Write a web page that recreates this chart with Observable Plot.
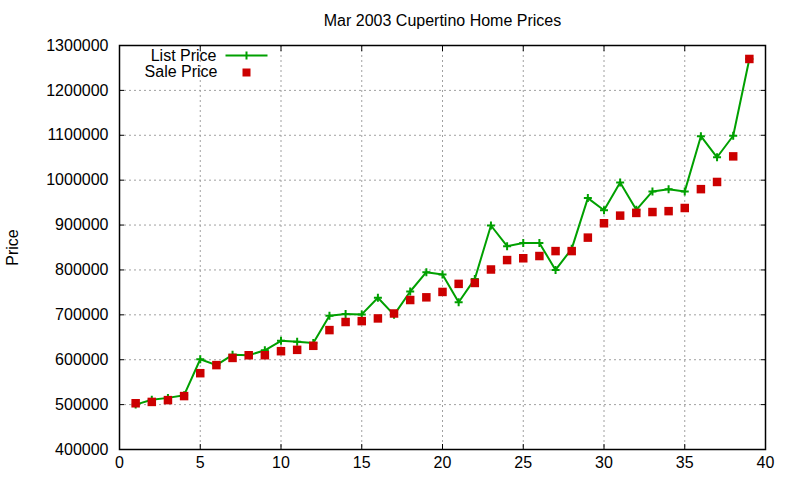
<!DOCTYPE html>
<html>
<head>
<meta charset="utf-8">
<script src="https://cdn.jsdelivr.net/npm/d3@7"></script>
<script src="https://cdn.jsdelivr.net/npm/@observablehq/plot@0.6"></script>
<style>
  html, body { margin: 0; padding: 0; background: #fff; }
</style>
</head>
<body>
<div id="chart"></div>
<script>
const title = "Mar 2003 Cupertino Home Prices";
const yLabel = "Price";
const seriesNames = ["List Price", "Sale Price"];
const houseIndex = [1,2,3,4,5,6,7,8,9,10,11,12,13,14,15,16,17,18,19,20,21,22,23,24,25,26,27,28,29,30,31,32,33,34,35,36,37,38,39];
const listPrice = [500000,511000,515000,521000,601000,588000,611000,610000,621000,642000,640000,637000,698000,702000,701000,738000,700000,752000,795000,790000,728000,780000,899000,853000,860000,860000,800000,847000,960000,933000,995000,934000,975000,980000,975000,1098000,1051000,1099000,1270000];
const salePrice = [503000,506000,510000,519000,570000,588000,604000,610000,610000,619000,622000,631000,666000,684000,686000,692000,703000,733000,739000,751000,769000,771000,801000,822000,826000,831000,842000,842000,872000,904000,921000,927000,929000,931000,938000,980000,996000,1053000,1270000];
const xTicks = [0,5,10,15,20,25,30,35,40];
const yTicks = [400000,500000,600000,700000,800000,900000,1000000,1100000,1200000,1300000];

const rows = houseIndex.map((x, i) => ({x, list: listPrice[i], sale: salePrice[i]}));

const GREEN = "#00a000";
const RED = "#cc0000";
const plusSymbol = {draw(ctx) { const r = 4; ctx.moveTo(-r, 0); ctx.lineTo(r, 0); ctx.moveTo(0, -r); ctx.lineTo(0, r); }};
const squareSymbol = {draw(ctx) { ctx.rect(-4.25, -4.25, 8.5, 8.5); }};
const legendLineSymbol = {draw(ctx) { ctx.moveTo(-21, 0); ctx.lineTo(21, 0); ctx.moveTo(0, -4); ctx.lineTo(0, 4); }};
const legendSquareSymbol = {draw(ctx) { ctx.rect(-4, -4, 8, 8); }};

const gridStyle = {stroke: "#a0a0a0", strokeOpacity: 1, strokeWidth: 1, strokeDasharray: "2,3"};

const plot = Plot.plot({
  width: 800,
  height: 480,
  marginLeft: 119,
  marginRight: 35,
  marginTop: 45,
  marginBottom: 31,
  style: {fontFamily: "'Liberation Sans', Arial, sans-serif", fontSize: "16px", color: "#000", background: "#fff", overflow: "visible"},
  x: {domain: [0, 40], label: null},
  y: {domain: [400000, 1300000], label: null},
  marks: [
    Plot.gridX(xTicks, gridStyle),
    Plot.gridY(yTicks, gridStyle),
    Plot.axisX(xTicks, {anchor: "bottom", tickSize: 0, tickPadding: 7, tickFormat: d => String(d), label: null}),
    Plot.axisY(yTicks, {anchor: "left", tickSize: 0, tickPadding: 11, tickFormat: d3.format("d"), label: null}),
    Plot.axisX(xTicks, {anchor: "bottom", tickSize: -5, fill: "none", label: null}),
    Plot.axisX(xTicks, {anchor: "top", tickSize: -5, fill: "none", label: null}),
    Plot.axisY(yTicks, {anchor: "left", tickSize: -5, fill: "none", label: null}),
    Plot.axisY(yTicks, {anchor: "right", tickSize: -5, fill: "none", label: null}),
    Plot.line(rows, {x: "x", y: "list", stroke: GREEN, strokeWidth: 2}),
    Plot.dot(rows, {x: "x", y: "list", symbol: plusSymbol, fill: "none", stroke: GREEN, strokeWidth: 2}),
    Plot.dot(rows, {x: "x", y: "sale", symbol: squareSymbol, fill: RED, stroke: "none"}),
    Plot.frame({stroke: "#000", strokeWidth: 1.5}),
    Plot.text([title], {frameAnchor: "top", dy: -25, lineAnchor: "middle", textAnchor: "middle", fill: "#000"}),
    Plot.text([yLabel], {frameAnchor: "left", dx: -107, rotate: -90, lineAnchor: "middle", textAnchor: "middle", fill: "#000"}),
    Plot.text([seriesNames[0]], {frameAnchor: "top-left", dx: 97, dy: 10, lineAnchor: "middle", textAnchor: "end", fill: "#000"}),
    Plot.dot([seriesNames[0]], {frameAnchor: "top-left", dx: 127, dy: 10, symbol: legendLineSymbol, fill: "none", stroke: GREEN, strokeWidth: 2}),
    Plot.text([seriesNames[1]], {frameAnchor: "top-left", dx: 98, dy: 26, lineAnchor: "middle", textAnchor: "end", fill: "#000"}),
    Plot.dot([seriesNames[1]], {frameAnchor: "top-left", dx: 127, dy: 27, symbol: legendSquareSymbol, fill: RED, stroke: "none"})
  ]
});
document.getElementById("chart").appendChild(plot);
</script>
</body>
</html>
